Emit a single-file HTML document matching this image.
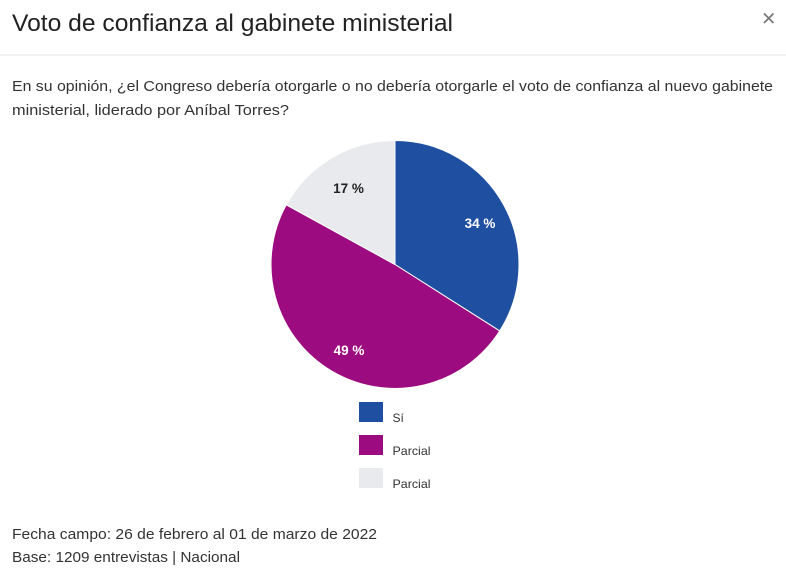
<!DOCTYPE html>
<html>
<head>
<meta charset="utf-8">
<style>
  html,body{margin:0;padding:0;background:#fff;}
  body{width:786px;height:573px;overflow:hidden;}
  svg{display:block;}
  text{font-family:"Liberation Sans",Arial,sans-serif;}
</style>
</head>
<body>
<svg width="786" height="573" viewBox="0 0 786 573" xmlns="http://www.w3.org/2000/svg">
  <rect width="786" height="573" fill="#ffffff"/>
  <!-- Title -->
  <text x="12" y="31" font-size="24.5" fill="#222" textLength="441" lengthAdjust="spacingAndGlyphs">Voto de confianza al gabinete ministerial</text>
  <!-- close -->
  <path d="M764 13.5 L773.5 23 M773.5 13.5 L764 23" stroke="#7a7a7a" stroke-width="1.8" fill="none"/>
  <!-- separator -->
  <rect x="0" y="54.5" width="786" height="1" fill="#e3e3e3"/>
  <!-- question -->
  <text x="12" y="91" font-size="15" fill="#333" textLength="761" lengthAdjust="spacingAndGlyphs">En su opinión, ¿el Congreso debería otorgarle o no debería otorgarle el voto de confianza al nuevo gabinete</text>
  <text x="12" y="115" font-size="15" fill="#333" textLength="277" lengthAdjust="spacingAndGlyphs">ministerial, liderado por Aníbal Torres?</text>

  <!-- Pie -->
  <g stroke="#ffffff" stroke-width="1" stroke-linejoin="round">
    <path d="M395 264.5 L395 140.5 A124 124 0 0 1 499.7 330.9 Z" fill="#1e4fa0"/>
    <path d="M395 264.5 L499.7 330.9 A124 124 0 0 1 286.3 204.8 Z" fill="#9c0b7f"/>
    <path d="M395 264.5 L286.3 204.8 A124 124 0 0 1 395 140.5 Z" fill="#e9eaee"/>
  </g>
  <text x="480" y="228" font-size="13.5" font-weight="bold" fill="#fff" text-anchor="middle">34 %</text>
  <text x="349" y="355" font-size="13.5" font-weight="bold" fill="#fff" text-anchor="middle">49 %</text>
  <text x="348.5" y="193" font-size="13.5" font-weight="bold" fill="#222" text-anchor="middle">17 %</text>

  <!-- Legend -->
  <rect x="359" y="402" width="24" height="20" fill="#1e4fa0"/>
  <rect x="359" y="435" width="24" height="20" fill="#9c0b7f"/>
  <rect x="359" y="468" width="24" height="20" fill="#e9eaee"/>
  <text x="392.5" y="422" font-size="12" fill="#333">Sí</text>
  <text x="392.5" y="455" font-size="12" fill="#333" textLength="38" lengthAdjust="spacingAndGlyphs">Parcial</text>
  <text x="392.5" y="488" font-size="12" fill="#333" textLength="38" lengthAdjust="spacingAndGlyphs">Parcial</text>

  <!-- Footer -->
  <text x="12" y="539" font-size="15" fill="#333" textLength="365" lengthAdjust="spacingAndGlyphs">Fecha campo: 26 de febrero al 01 de marzo de 2022</text>
  <text x="12" y="562" font-size="15" fill="#333" textLength="228" lengthAdjust="spacingAndGlyphs">Base: 1209 entrevistas | Nacional</text>
</svg>
</body>
</html>
